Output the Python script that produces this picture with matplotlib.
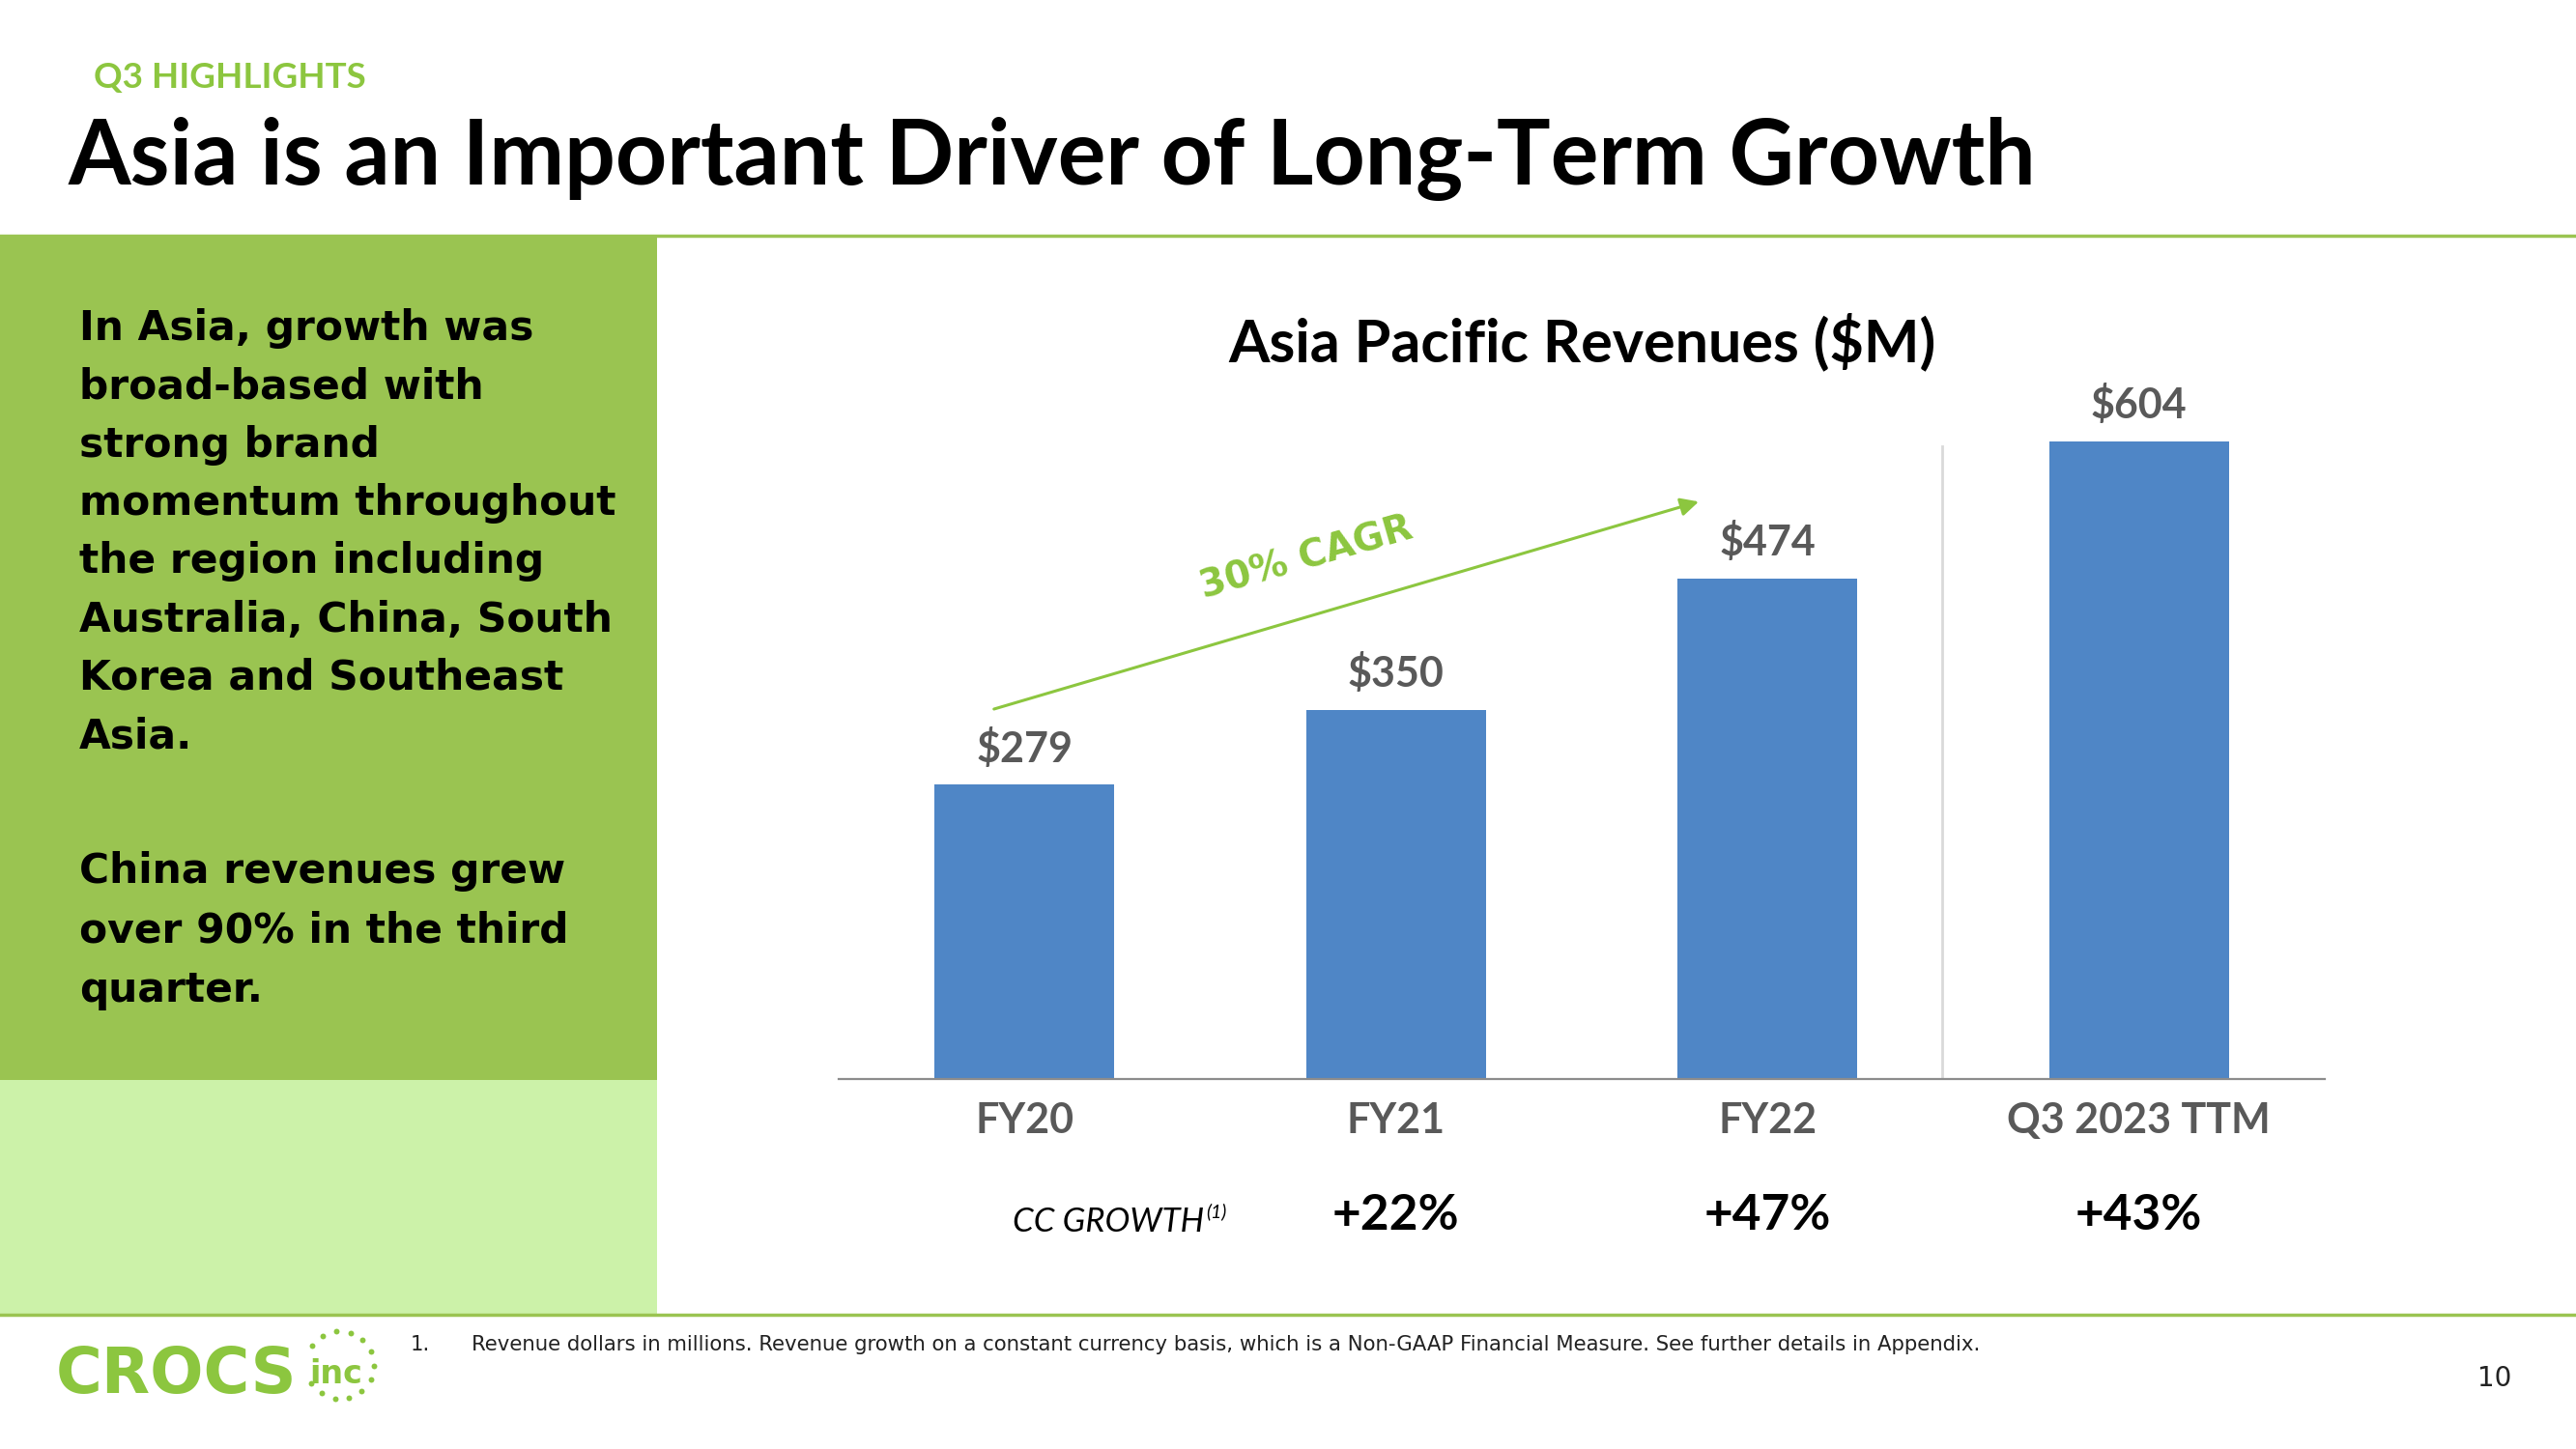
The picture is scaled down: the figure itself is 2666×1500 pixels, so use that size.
import numpy as np
import matplotlib
matplotlib.use("Agg")
import matplotlib.pyplot as plt
from matplotlib import font_manager

# data
categories = ["FY20", "FY21", "FY22", "Q3 2023 TTM"]
revenues = [279, 350, 474, 604]
growth_idx = [1, 2, 3]
growth = ["+22%", "+47%", "+43%"]
cagr_label = "30% CAGR"

left_para1 = ["In Asia, growth was", "broad-based with", "strong brand",
              "momentum throughout", "the region including",
              "Australia, China, South", "Korea and Southeast", "Asia."]
left_para2 = ["China revenues grew", "over 90% in the third", "quarter."]
footnote = ("Revenue dollars in millions. Revenue growth on a constant currency basis, "
            "which is a Non-GAAP Financial Measure. See further details in Appendix.")

# colours
green = "#9AC451"
green_txt = "#8CC63F"
light_green = "#CCF2A9"
bar_blue = "#4F86C6"
gray_txt = "#595959"

installed = {f.name for f in font_manager.fontManager.ttflist}
narrow = "Liberation Sans Narrow" if "Liberation Sans Narrow" in installed else "Lato"
body = "DejaVu Sans"

W, H = 2666, 1500
fig = plt.figure(figsize=(W / 100, H / 100), dpi=100)

# background layer in pixel coordinates
bg = fig.add_axes([0, 0, 1, 1])
bg.set_xlim(0, W)
bg.set_ylim(H, 0)
bg.axis("off")

bg.add_patch(plt.Rectangle((0, 244), 680, 874, color=green, lw=0))
bg.add_patch(plt.Rectangle((0, 1118), 680, 242, color=light_green, lw=0))
bg.axhline(244, color=green, lw=2.5)
bg.axhline(1361, color=green, lw=2.5)

bg.text(97, 80, "Q3 HIGHLIGHTS", family=narrow, fontweight="bold", fontsize=26.5,
        color=green_txt, va="center", ha="left")
bg.text(71, 191, "Asia is an Important Driver of Long-Term Growth", family=narrow,
        fontweight="bold", fontsize=67, color="black", va="baseline", ha="left")

for k, line in enumerate(left_para1):
    bg.text(82, 352 + 60.3 * k, line, family=body, fontweight="bold", fontsize=30.5,
            color="black", va="baseline", ha="left")
for k, line in enumerate(left_para2):
    bg.text(82, 914 + 61.5 * k, line, family=body, fontweight="bold", fontsize=30.5,
            color="black", va="baseline", ha="left")

bg.text(1637, 374, "Asia Pacific Revenues ($M)", family="Lato", fontweight="bold",
        fontsize=44, color="black", va="baseline", ha="center")

bg.text(1246, 1275, "CC GROWTH", family="Lato", style="italic", fontweight="normal",
        fontsize=25, color="black", va="baseline", ha="right")
bg.text(1248, 1260, "(1)", family="Lato", style="italic", fontweight="normal",
        fontsize=14, color="black", va="baseline", ha="left")

# footer
bg.text(425, 1398, "1.", family=body, fontsize=15.3, color="#222222", va="baseline")
bg.text(488, 1398, footnote, family=body, fontsize=15.3, color="#222222", va="baseline")
bg.text(2582, 1435, "10", family=body, fontsize=20, color="#222222",
        va="baseline", ha="center")

# logo
bg.text(58, 1442, "CROCS", family=body, fontweight="bold", fontsize=47,
        color=green_txt, va="baseline", ha="left")
bg.text(348, 1432, "inc", family=body, fontweight="bold", fontsize=24,
        color=green_txt, va="baseline", ha="center")
ang = np.deg2rad(np.linspace(146, -148, 13))
bg.scatter(352 + 35 * np.cos(ang), 1413 - 35 * np.sin(ang), s=18,
           color=green_txt, lw=0)

# chart
ax = fig.add_axes([868 / W, 1 - 1117 / H, (2406 - 868) / W, (1117 - 380) / H])
ax.patch.set_alpha(0)
x = np.arange(len(categories))
ax.bar(x, revenues, width=0.484, color=bar_blue, zorder=2)
ax.set_xlim(-0.5, 3.5)
ax.set_ylim(0, (1117 - 380) / 1.0927)
for s in ["top", "left", "right"]:
    ax.spines[s].set_visible(False)
ax.spines["bottom"].set_color("#8C8C8C")
ax.spines["bottom"].set_linewidth(1.6)
ax.set_yticks([])
ax.set_xticks(x, categories)
ax.tick_params(axis="x", length=0, pad=40)
for t in ax.get_xticklabels():
    t.set_va("baseline")
    t.set_family(narrow)
    t.set_fontweight("bold")
    t.set_fontsize(31)
    t.set_color(gray_txt)

ax.axvline(2.47, ymin=0, ymax=0.889, color="#D9D9D9", lw=2)

for i, v in zip(x, revenues):
    ax.annotate(f"${v}", (i, v), xytext=(0, 17), textcoords="offset points",
                ha="center", va="baseline", family="Lato", fontweight="bold",
                fontsize=31, color=gray_txt)

for i, g in zip(growth_idx, growth):
    ax.text(i, -0.2117, g, transform=ax.get_xaxis_transform(), ha="center",
            va="baseline", family=narrow, fontweight="bold", fontsize=37,
            color="black")

# CAGR arrow
ax.annotate("", xy=(1.815, 547), xytext=(-0.082, 350.5),
            arrowprops=dict(arrowstyle="-|>", color=green_txt, lw=2.2,
                            mutation_scale=28, shrinkA=0, shrinkB=0))
ax.text(0.759, 494, cagr_label, rotation=16, rotation_mode="anchor",
        ha="center", va="center", family=body, fontweight="bold",
        fontsize=28, color=green_txt)

fig.savefig("out.png", dpi=100)
